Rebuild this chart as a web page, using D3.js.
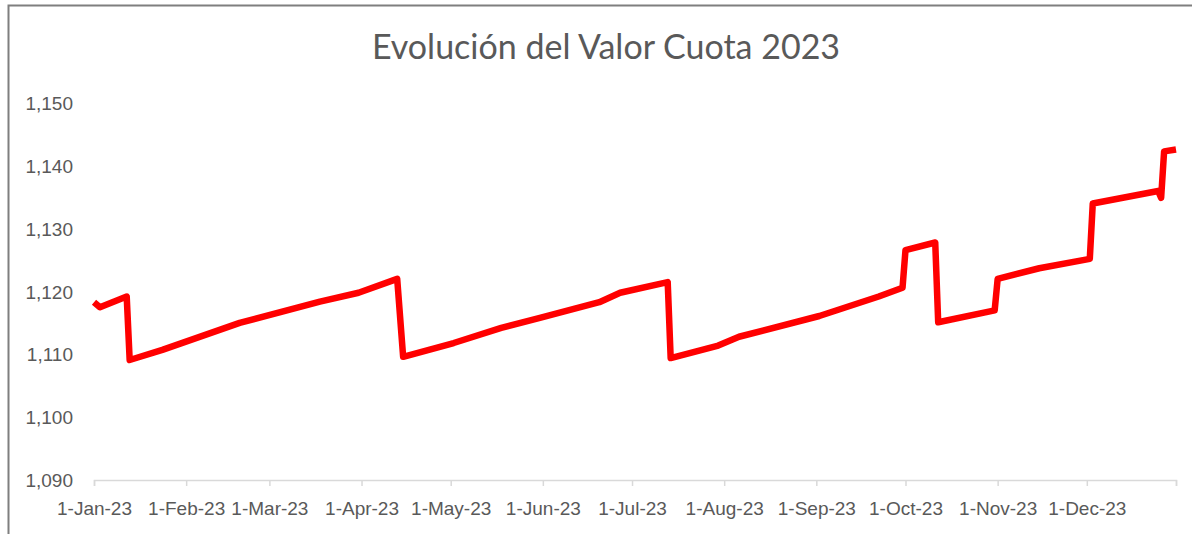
<!DOCTYPE html>
<html>
<head>
<meta charset="utf-8">
<script src="https://cdn.jsdelivr.net/npm/d3@7"></script>
<style>
  body { margin: 0; background: #fff; }
  svg { display: block; font-family: Lato, "Open Sans", sans-serif; }
</style>
</head>
<body>
<div id="chart"></div>
<script>
// Values
const dates = [
  "2023-01-01", "2023-01-03", "2023-01-12", "2023-01-13", "2023-01-24", "2023-02-19",
  "2023-03-18", "2023-03-31", "2023-04-13", "2023-04-15", "2023-05-02", "2023-05-18",
  "2023-05-31", "2023-06-20", "2023-06-27", "2023-07-13", "2023-07-14", "2023-07-30",
  "2023-08-06", "2023-09-02", "2023-09-22", "2023-09-30", "2023-10-01", "2023-10-11",
  "2023-10-12", "2023-10-31", "2023-11-01", "2023-11-15", "2023-12-02", "2023-12-03",
  "2023-12-25", "2023-12-26", "2023-12-27", "2023-12-31"
];
const values = [
  1118.3, 1117.5, 1119.2, 1109.1, 1110.7, 1115.0,
  1118.4, 1119.8, 1122.0, 1109.6, 1111.8, 1114.2,
  1115.8, 1118.3, 1119.8, 1121.5, 1109.4, 1111.4,
  1112.8, 1116.1, 1119.2, 1120.6, 1126.6, 1127.8,
  1115.1, 1117.0, 1122.0, 1123.7, 1125.2, 1134.0,
  1136.0, 1134.9, 1142.3, 1142.6
];
const yTicks = [1090, 1100, 1110, 1120, 1130, 1140, 1150];
const monthTicks = ["2023-01-01", "2023-02-01", "2023-03-01", "2023-04-01", "2023-05-01", "2023-06-01",
  "2023-07-01", "2023-08-01", "2023-09-01", "2023-10-01", "2023-11-01", "2023-12-01"];
const title = "Evolución del Valor Cuota 2023";

const width = 1192, height = 534;
const parse = d3.timeParse("%Y-%m-%d");
const data = dates.map((d, i) => ({ date: parse(d), value: values[i] }));

const svg = d3.select("#chart").append("svg")
  .attr("width", width)
  .attr("height", height);

// chart frame (only top and left edges show)
svg.append("path")
  .attr("d", "M8.5,534 L8.5,5.5 L1192,5.5")
  .attr("fill", "none")
  .attr("stroke", "#7f7f7f")
  .attr("stroke-width", 2);

const x = d3.scaleTime()
  .domain([parse("2023-01-01"), parse("2023-12-31")])
  .range([94, 1176]);
const y = d3.scaleLinear()
  .domain([1090, 1150])
  .range([480, 103]);

svg.append("text")
  .attr("x", 606)
  .attr("y", 59)
  .attr("text-anchor", "middle")
  .style("font-size", "34px")
  .style("fill", "#595959")
  .text(title);

// x axis
const xAxis = svg.append("g")
  .attr("transform", "translate(0,480)")
  .call(d3.axisBottom(x)
    .tickValues(monthTicks.map(parse).concat([parse("2023-12-31")]))
    .tickSize(6)
    .tickFormat(d => d3.timeFormat("%Y-%m-%d")(d) === "2023-12-31" ? "" : d3.timeFormat("%-d-%b-%y")(d)));
xAxis.select(".domain").attr("stroke", "#d9d9d9").attr("stroke-width", 1.5);
xAxis.selectAll(".tick line").attr("stroke", "#d9d9d9").attr("stroke-width", 1.5);
xAxis.selectAll(".tick text")
  .attr("y", 22)
  .style("font-size", "19px")
  .style("fill", "#595959");

// y axis labels only
const yAxis = svg.append("g")
  .attr("transform", "translate(73,0)")
  .call(d3.axisLeft(y).tickValues(yTicks).tickSize(0).tickPadding(0).tickFormat(d3.format(",")));
yAxis.select(".domain").remove();
yAxis.selectAll(".tick text")
  .attr("dy", "0.35em")
  .style("font-size", "19px")
  .style("fill", "#595959");

// value line
const line = d3.line()
  .x(d => x(d.date))
  .y(d => y(d.value));

svg.append("path")
  .datum(data)
  .attr("d", line)
  .attr("fill", "none")
  .attr("stroke", "#ff0000")
  .attr("stroke-width", 6.5)
  .attr("stroke-linejoin", "round")
  .attr("stroke-linecap", "butt");
</script>
</body>
</html>
